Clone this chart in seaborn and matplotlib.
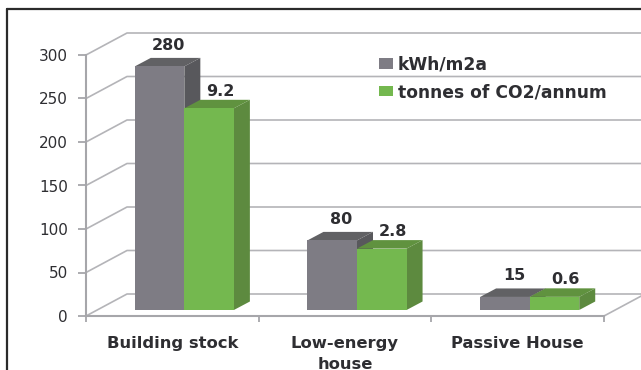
import matplotlib
matplotlib.use("Agg")
import matplotlib.pyplot as plt
from matplotlib.lines import Line2D
from matplotlib.patches import Patch, Polygon
import pandas as pd
import seaborn as sns

categories = ["Building stock", "Low-energy\nhouse", "Passive House"]
energy_use = [280, 80, 15]
emissions = [9.2, 2.8, 0.6]
energy_name = "kWh/m2a"
emissions_name = "tonnes of CO2/annum"
y_ticks = [0, 50, 100, 150, 200, 250, 300]

W, H = 641, 370
INK = "#2e2e32"
GRID = "#b4b4b8"
AXIS = "#a6a6aa"
FRONT = {energy_name: "#7e7c84", emissions_name: "#74b84f"}
SIDE = {energy_name: "#58585c", emissions_name: "#5d8a3f"}
TOP = {energy_name: "#616164", emissions_name: "#60923f"}

sns.set_theme(style="white")
plt.rcParams["font.family"] = ["DejaVu Sans"]

fig = plt.figure(figsize=(W / 100, H / 100), dpi=100, facecolor="white")


def rect(left, right, bottom, top):
    return [left / W, 1 - bottom / H, (right - left) / W, (bottom - top) / H]


# Floor and wall of the box
wall = fig.add_axes(rect(86, 604, 316, 55))
wall.set_xlim(0, 3)
wall.set_ylim(0, 300)
wall.patch.set_alpha(0)
sns.despine(ax=wall)
for name in ("left", "bottom"):
    wall.spines[name].set_color(AXIS)
    wall.spines[name].set_linewidth(1.5)

wall_dx = 41 / 518 * 3
wall_dy = 22 / 261 * 300
for tick in y_ticks:
    wall.plot([0, wall_dx, 3.4], [tick, tick + wall_dy, tick + wall_dy],
              color=GRID, lw=1.2, clip_on=False, zorder=1)
wall.plot([3, 3 + wall_dx], [0, wall_dy], color=GRID, lw=1.2, clip_on=False, zorder=1)

wall.set_yticks(y_ticks)
wall.set_yticklabels([str(t) for t in y_ticks], fontsize=11, color=INK)
wall.set_xticks([0, 1, 2, 3])
wall.set_xticklabels([])
wall.set_xticks([0.5, 1.5, 2.5], minor=True)
wall.set_xticklabels(categories, minor=True, fontsize=11.8, fontweight="bold",
                     color=INK, linespacing=1.45)
wall.tick_params(axis="y", left=True, length=6, width=1.3, color=AXIS, pad=7)
wall.tick_params(axis="x", which="major", bottom=True, length=4, width=1.3, color=AXIS)
wall.tick_params(axis="x", which="minor", bottom=False, length=0, pad=14.5)

# The two series share a bar position but have separate value scales
co2_per_kwh_axis = 25.2
bar_box = rect(98, 616, 310, 49)
ax_energy = fig.add_axes(bar_box)
ax_emissions = fig.add_axes(bar_box)
series = [
    (ax_energy, energy_name, energy_use, 300, (9, 21)),
    (ax_emissions, emissions_name, emissions, 300 / co2_per_kwh_axis, (11, 17)),
]
DEPTH_X = 16 / 518 * 3
DEPTH_PX_Y = 8.5

for ax, name, values, top_value, label_offset in series:
    # The empty rows hold a slot for the other series so both dodge side by side
    other = energy_name if name == emissions_name else emissions_name
    frame = pd.DataFrame({
        "category": categories * 2,
        "series": [name] * 3 + [other] * 3,
        "value": list(values) + [0.0] * 3,
    })
    sns.barplot(data=frame, x="category", y="value", hue="series",
                hue_order=[energy_name, emissions_name], order=categories,
                palette=FRONT, width=0.574, gap=0, saturation=1, dodge=True,
                linewidth=0, legend=False, ax=ax, zorder=4)
    ax.set_xlim(-0.5, 2.5)
    ax.set_ylim(0, top_value)
    ax.axis("off")
    depth_y = top_value * DEPTH_PX_Y / 261
    drawn = [b for b in ax.patches if b.get_height() > 0]
    for bar, value in zip(drawn, values):
        x0, x1 = bar.get_x(), bar.get_x() + bar.get_width()
        h = bar.get_height()
        ax.add_patch(Polygon([(x1, 0), (x1 + DEPTH_X, depth_y),
                              (x1 + DEPTH_X, h + depth_y), (x1, h)],
                             closed=True, fc=SIDE[name], ec="none", zorder=3, clip_on=False))
        ax.add_patch(Polygon([(x0, h), (x0 + DEPTH_X, h + depth_y),
                              (x1 + DEPTH_X, h + depth_y), (x1, h)],
                             closed=True, fc=TOP[name], ec="none", zorder=3, clip_on=False))
        ax.annotate(f"{value:g}", xy=((x0 + x1) / 2, h), xytext=label_offset,
                    textcoords="offset pixels", ha="center", va="center",
                    fontsize=11.5, fontweight="bold", color=INK, annotation_clip=False)

# Legend over the wall
handles = [Patch(fc=FRONT[energy_name], ec="none"), Patch(fc=FRONT[emissions_name], ec="none")]
fig.legend(handles, [energy_name, emissions_name], loc="upper left",
           bbox_to_anchor=(374 / W, 1 - 50 / H), frameon=False, ncol=1,
           handlelength=0.82, handleheight=0.6, handletextpad=0.28, labelspacing=0.58,
           borderaxespad=0, borderpad=0.3, labelcolor=INK,
           prop={"size": 12.3, "weight": "bold"})

# Dark frame along the top and left edges
fig.add_artist(Line2D([7 / W, 7 / W], [0, 1 - 9 / H], color="#2b2b2b", lw=1.6))
fig.add_artist(Line2D([7 / W, 1], [1 - 9 / H, 1 - 9 / H], color="#2b2b2b", lw=1.6))

fig.savefig("out.png", dpi=100, facecolor="white")
